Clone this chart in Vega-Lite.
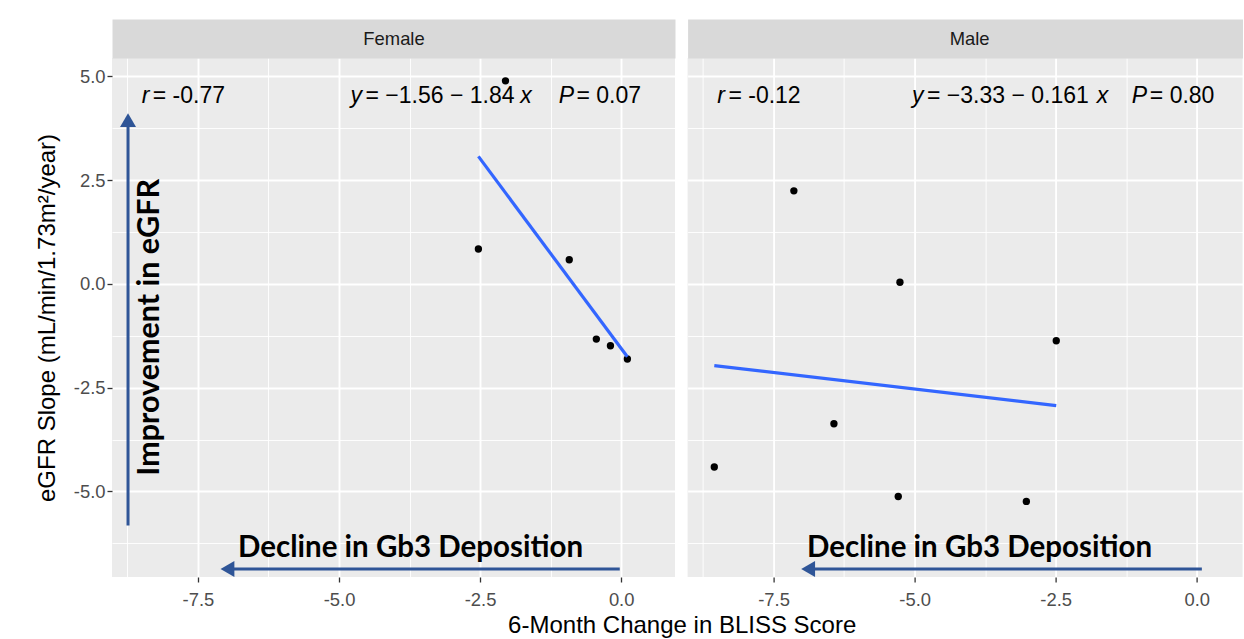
{
  "$schema": "https://vega.github.io/schema/vega-lite/v6.json",
  "background": "white",
  "padding": {"left": 35, "top": 29, "right": 0, "bottom": 0},
  "datasets": {
    "points": [
      {"sex": "Female", "bliss": -2.05, "egfr": 4.89},
      {"sex": "Female", "bliss": -2.53, "egfr": 0.84},
      {"sex": "Female", "bliss": -0.92, "egfr": 0.58},
      {"sex": "Female", "bliss": -0.44, "egfr": -1.33},
      {"sex": "Female", "bliss": -0.19, "egfr": -1.49},
      {"sex": "Female", "bliss": 0.11, "egfr": -1.81},
      {"sex": "Male", "bliss": -7.14, "egfr": 2.24},
      {"sex": "Male", "bliss": -5.26, "egfr": 0.04},
      {"sex": "Male", "bliss": -2.49, "egfr": -1.37},
      {"sex": "Male", "bliss": -6.43, "egfr": -3.37},
      {"sex": "Male", "bliss": -8.55, "egfr": -4.41},
      {"sex": "Male", "bliss": -5.29, "egfr": -5.12},
      {"sex": "Male", "bliss": -3.02, "egfr": -5.24}
    ],
    "labels": [
      {"sex": "Female", "part": "symbol", "text": "r", "x": -8.497, "y": 4.35},
      {"sex": "Female", "part": "value", "text": "= -0.77", "x": -8.30, "y": 4.35},
      {"sex": "Female", "part": "symbol", "text": "y", "x": -4.795, "y": 4.35},
      {"sex": "Female", "part": "value", "text": "= \u22121.56 \u2212 1.84", "x": -4.53, "y": 4.35},
      {"sex": "Female", "part": "symbol", "text": "x", "x": -1.789, "y": 4.35},
      {"sex": "Female", "part": "symbol", "text": "P", "x": -1.108, "y": 4.35},
      {"sex": "Female", "part": "value", "text": "= 0.07", "x": -0.793, "y": 4.35},
      {"sex": "Male", "part": "symbol", "text": "r", "x": -8.497, "y": 4.35},
      {"sex": "Male", "part": "value", "text": "= -0.12", "x": -8.30, "y": 4.35},
      {"sex": "Male", "part": "symbol", "text": "y", "x": -5.047, "y": 4.35},
      {"sex": "Male", "part": "value", "text": "= \u22123.33 \u2212 0.161", "x": -4.78, "y": 4.35},
      {"sex": "Male", "part": "symbol", "text": "x", "x": -1.771, "y": 4.35},
      {"sex": "Male", "part": "symbol", "text": "P", "x": -1.151, "y": 4.35},
      {"sex": "Male", "part": "value", "text": "= 0.80", "x": -0.832, "y": 4.35}
    ],
    "arrows": [
      {"sex": "Female", "dir": "left", "x1": -0.025, "x2": -6.977, "y1": -6.87, "y2": -6.87},
      {"sex": "Female", "dir": "up", "x1": -8.739, "x2": -8.739, "y1": -5.82, "y2": 3.944},
      {"sex": "Male", "dir": "left", "x1": 0.09, "x2": -6.887, "y1": -6.87, "y2": -6.87}
    ],
    "notes": [
      {"sex": "Female", "dir": "h", "text": "Decline in Gb3 Deposition", "x": -3.733, "y": -6.57},
      {"sex": "Female", "dir": "v", "text": "Improvement in eGFR", "x": -8.355, "y": -1.045},
      {"sex": "Male", "dir": "h", "text": "Decline in Gb3 Deposition", "x": -3.85, "y": -6.57}
    ]
  },
  "bounds": "flush",
  "spacing": 12.6,
  "hconcat": [
    {
      "width": 563,
      "height": 519,
      "view": {"fill": "#EBEBEB", "stroke": null},
      "resolve": {"axis": {"x": "independent"}},
      "layer": [
        {
          "data": {"name": "points"},
          "transform": [{"filter": "datum.sex === 'Female'"}],
          "mark": {"type": "point", "filled": true, "color": "#000000", "opacity": 1, "size": 54},
          "encoding": {
            "x": {
              "field": "bliss", "type": "quantitative",
              "scale": {"domain": [-9.023, 0.954], "nice": false, "zero": false},
              "axis": {
                "values": [-8.75, -7.5, -6.25, -5, -3.75, -2.5, -1.25, 0],
                "labelExpr": "abs(datum.value % 2.5) > 0.01 ? '' : replace(format(datum.value, '.1f'), '\u2212', '-')",
                "labelPadding": 8,
                "tickOpacity": {"condition": {"test": "abs(datum.value % 2.5) > 0.01", "value": 0}, "value": 1},
                "gridWidth": {"condition": {"test": "abs(datum.value % 2.5) > 0.01", "value": 0.9}, "value": 1.9},
                "title": "6-Month Change in BLISS Score",
                "titleX": 569.7,
                "titleAlign": "center",
                "titlePadding": 5
              }
            },
            "y": {
              "field": "egfr", "type": "quantitative",
              "scale": {"domain": [-7.06, 5.44], "nice": false, "zero": false},
              "axis": {
                "values": [-6.25, -5, -3.75, -2.5, -1.25, 0, 1.25, 2.5, 3.75, 5],
                "labelExpr": "abs(datum.value % 2.5) > 0.01 ? '' : replace(format(datum.value, '.1f'), '\u2212', '-')",
                "labelPadding": 2,
                "tickOpacity": {"condition": {"test": "abs(datum.value % 2.5) > 0.01", "value": 0}, "value": 1},
                "gridWidth": {"condition": {"test": "abs(datum.value % 2.5) > 0.01", "value": 0.9}, "value": 1.9},
                "title": "eGFR Slope (mL/min/1.73m\u00b2/year)",
                "titlePadding": 14.3
              }
            }
          }
        },
        {
          "data": {"name": "points"},
          "transform": [{"filter": "datum.sex === 'Female'"}, {"regression": "egfr", "on": "bliss"}],
          "mark": {"type": "line", "color": "#3366FF", "strokeWidth": 3.2},
          "encoding": {
            "x": {
              "field": "bliss", "type": "quantitative",
              "axis": {
                "orient": "top", "grid": false, "ticks": false, "labels": false,
                "domain": true, "domainColor": "#D9D9D9", "domainWidth": 39, "offset": 19.5,
                "title": "Female", "titleFontSize": 18.4, "titleColor": "#1A1A1A",
                "titleBaseline": "middle", "titleY": 0, "titleAlign": "center", "titleX": 281.5
              }
            },
            "y": {"field": "egfr", "type": "quantitative"}
          }
        },
        {
          "data": {"name": "labels"},
          "transform": [{"filter": "datum.sex === 'Female' && datum.part === 'symbol'"}],
          "mark": {"type": "text", "font": "Liberation Sans", "fontSize": 23, "fontStyle": "italic", "align": "left", "baseline": "alphabetic", "color": "#000000"},
          "encoding": {
            "x": {"field": "x", "type": "quantitative", "axis": null},
            "y": {"field": "y", "type": "quantitative"},
            "text": {"field": "text"}
          }
        },
        {
          "data": {"name": "labels"},
          "transform": [{"filter": "datum.sex === 'Female' && datum.part === 'value'"}],
          "mark": {"type": "text", "font": "Liberation Sans", "fontSize": 23, "align": "left", "baseline": "alphabetic", "color": "#000000"},
          "encoding": {
            "x": {"field": "x", "type": "quantitative", "axis": null},
            "y": {"field": "y", "type": "quantitative"},
            "text": {"field": "text"}
          }
        },
        {
          "data": {"name": "arrows"},
          "transform": [{"filter": "datum.sex === 'Female'"}],
          "mark": {"type": "rule", "color": "#2F5597", "strokeWidth": 3},
          "encoding": {
            "x": {"field": "x1", "type": "quantitative", "axis": null},
            "x2": {"field": "x2"},
            "y": {"field": "y1", "type": "quantitative"},
            "y2": {"field": "y2"}
          }
        },
        {
          "data": {"name": "arrows"},
          "transform": [{"filter": "datum.sex === 'Female' && datum.dir === 'left'"}],
          "mark": {"type": "point", "shape": "triangle-left", "filled": true, "color": "#2F5597", "opacity": 1, "size": 256},
          "encoding": {
            "x": {"field": "x2", "type": "quantitative", "axis": null},
            "y": {"field": "y2", "type": "quantitative"}
          }
        },
        {
          "data": {"name": "arrows"},
          "transform": [{"filter": "datum.sex === 'Female' && datum.dir === 'up'"}],
          "mark": {"type": "point", "shape": "triangle-up", "filled": true, "color": "#2F5597", "opacity": 1, "size": 256},
          "encoding": {
            "x": {"field": "x2", "type": "quantitative", "axis": null},
            "y": {"field": "y2", "type": "quantitative"}
          }
        },
        {
          "data": {"name": "notes"},
          "transform": [{"filter": "datum.sex === 'Female' && datum.dir === 'h'"}],
          "mark": {"type": "text", "font": "Lato", "fontWeight": "bold", "fontSize": 29.5, "align": "center", "baseline": "alphabetic", "color": "#000000"},
          "encoding": {
            "x": {"field": "x", "type": "quantitative", "axis": null},
            "y": {"field": "y", "type": "quantitative"},
            "text": {"field": "text"}
          }
        },
        {
          "data": {"name": "notes"},
          "transform": [{"filter": "datum.sex === 'Female' && datum.dir === 'v'"}],
          "mark": {"type": "text", "font": "Lato", "fontWeight": "bold", "fontSize": 30.5, "align": "center", "baseline": "middle", "angle": 270, "color": "#000000"},
          "encoding": {
            "x": {"field": "x", "type": "quantitative", "axis": null},
            "y": {"field": "y", "type": "quantitative"},
            "text": {"field": "text"}
          }
        }
      ]
    },
    {
      "width": 555,
      "height": 519,
      "view": {"fill": "#EBEBEB", "stroke": null},
      "resolve": {"axis": {"x": "independent"}},
      "layer": [
        {
          "data": {"name": "points"},
          "transform": [{"filter": "datum.sex === 'Male'"}],
          "mark": {"type": "point", "filled": true, "color": "#000000", "opacity": 1, "size": 54},
          "encoding": {
            "x": {
              "field": "bliss", "type": "quantitative",
              "scale": {"domain": [-9.023, 0.812], "nice": false, "zero": false},
              "axis": {
                "values": [-8.75, -7.5, -6.25, -5, -3.75, -2.5, -1.25, 0],
                "labelExpr": "abs(datum.value % 2.5) > 0.01 ? '' : replace(format(datum.value, '.1f'), '\u2212', '-')",
                "labelPadding": 8,
                "tickOpacity": {"condition": {"test": "abs(datum.value % 2.5) > 0.01", "value": 0}, "value": 1},
                "gridWidth": {"condition": {"test": "abs(datum.value % 2.5) > 0.01", "value": 0.9}, "value": 1.9},
                "title": null
              }
            },
            "y": {
              "field": "egfr", "type": "quantitative",
              "scale": {"domain": [-7.06, 5.44], "nice": false, "zero": false},
              "axis": {
                "values": [-6.25, -5, -3.75, -2.5, -1.25, 0, 1.25, 2.5, 3.75, 5],
                "labels": false, "ticks": false, "title": null,
                "gridWidth": {"condition": {"test": "abs(datum.value % 2.5) > 0.01", "value": 0.9}, "value": 1.9}
              }
            }
          }
        },
        {
          "data": {"name": "points"},
          "transform": [{"filter": "datum.sex === 'Male'"}, {"regression": "egfr", "on": "bliss"}],
          "mark": {"type": "line", "color": "#3366FF", "strokeWidth": 3.2},
          "encoding": {
            "x": {
              "field": "bliss", "type": "quantitative",
              "axis": {
                "orient": "top", "grid": false, "ticks": false, "labels": false,
                "domain": true, "domainColor": "#D9D9D9", "domainWidth": 39, "offset": 19.5,
                "title": "Male", "titleFontSize": 18.4, "titleColor": "#1A1A1A",
                "titleBaseline": "middle", "titleY": 0, "titleAlign": "center", "titleX": 281.5
              }
            },
            "y": {"field": "egfr", "type": "quantitative"}
          }
        },
        {
          "data": {"name": "labels"},
          "transform": [{"filter": "datum.sex === 'Male' && datum.part === 'symbol'"}],
          "mark": {"type": "text", "font": "Liberation Sans", "fontSize": 23, "fontStyle": "italic", "align": "left", "baseline": "alphabetic", "color": "#000000"},
          "encoding": {
            "x": {"field": "x", "type": "quantitative", "axis": null},
            "y": {"field": "y", "type": "quantitative"},
            "text": {"field": "text"}
          }
        },
        {
          "data": {"name": "labels"},
          "transform": [{"filter": "datum.sex === 'Male' && datum.part === 'value'"}],
          "mark": {"type": "text", "font": "Liberation Sans", "fontSize": 23, "align": "left", "baseline": "alphabetic", "color": "#000000"},
          "encoding": {
            "x": {"field": "x", "type": "quantitative", "axis": null},
            "y": {"field": "y", "type": "quantitative"},
            "text": {"field": "text"}
          }
        },
        {
          "data": {"name": "arrows"},
          "transform": [{"filter": "datum.sex === 'Male'"}],
          "mark": {"type": "rule", "color": "#2F5597", "strokeWidth": 3},
          "encoding": {
            "x": {"field": "x1", "type": "quantitative", "axis": null},
            "x2": {"field": "x2"},
            "y": {"field": "y1", "type": "quantitative"},
            "y2": {"field": "y2"}
          }
        },
        {
          "data": {"name": "arrows"},
          "transform": [{"filter": "datum.sex === 'Male' && datum.dir === 'left'"}],
          "mark": {"type": "point", "shape": "triangle-left", "filled": true, "color": "#2F5597", "opacity": 1, "size": 256},
          "encoding": {
            "x": {"field": "x2", "type": "quantitative", "axis": null},
            "y": {"field": "y2", "type": "quantitative"}
          }
        },
        {
          "data": {"name": "notes"},
          "transform": [{"filter": "datum.sex === 'Male' && datum.dir === 'h'"}],
          "mark": {"type": "text", "font": "Lato", "fontWeight": "bold", "fontSize": 29.5, "align": "center", "baseline": "alphabetic", "color": "#000000"},
          "encoding": {
            "x": {"field": "x", "type": "quantitative", "axis": null},
            "y": {"field": "y", "type": "quantitative"},
            "text": {"field": "text"}
          }
        }
      ]
    }
  ],
  "config": {
    "view": {"stroke": null},
    "axis": {
      "domain": false,
      "gridColor": "#FFFFFF",
      "gridOpacity": 1,
      "tickColor": "#333333",
      "tickSize": 5,
      "tickWidth": 1.3,
      "labelColor": "#4D4D4D",
      "labelFont": "Liberation Sans",
      "labelFontSize": 18.4,
      "titleFont": "Liberation Sans",
      "titleFontSize": 24,
      "titleFontWeight": "normal",
      "titleColor": "#000000"
    }
  }
}
